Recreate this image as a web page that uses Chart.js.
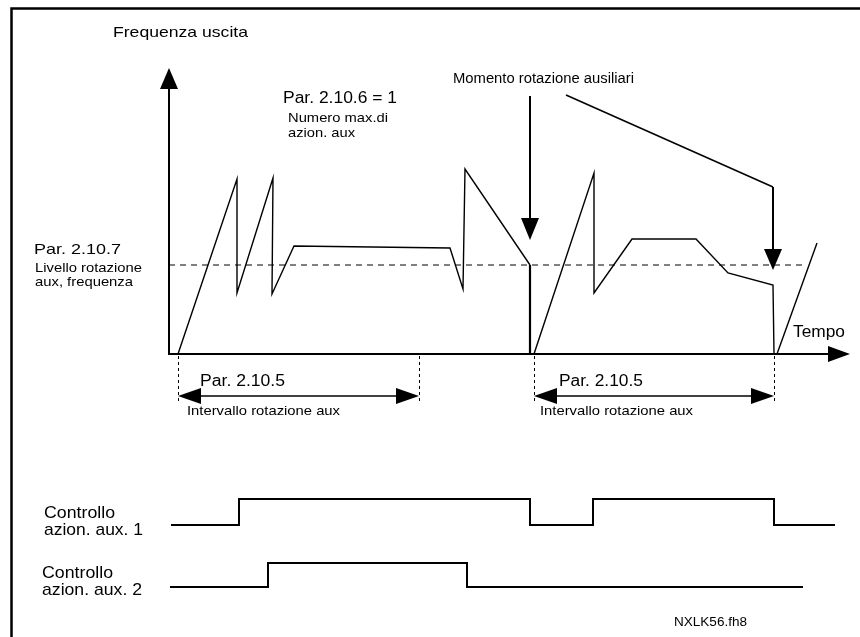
<!DOCTYPE html>
<html>
<head>
<meta charset="utf-8">
<script src="https://cdn.jsdelivr.net/npm/chart.js@4/dist/chart.umd.min.js"></script>
<style>
  html, body { margin: 0; padding: 0; background: #fff; }
  #wrap { width: 860px; height: 637px; }
</style>
</head>
<body>
<div id="wrap"><canvas id="diagram" width="860" height="637"></canvas></div>
<script>
// output frequency, time measured from the y axis, frequency from the time axis
const cycle1T = [9, 68, 68, 104, 103, 125, 281, 294, 296, 361, 361];
const cycle1F = [0, 175, 61, 176, 60, 108, 106, 65, 185, 89, 0];
const cycle2T = [365, 425, 425, 463, 527, 559, 604, 605];
const cycle2F = [0, 181, 61, 115, 115, 81, 69, 0];
const cycle3T = [608, 648];
const cycle3F = [0, 111];

// aux rotation level (Par. 2.10.7)
const levelF = 89;
const levelT = [0, 638];

// aux drive control signals (0 = off, 1 = on)
const aux1T = [2, 70, 361, 424, 605, 666];
const aux1S = [0, 1, 0, 1, 0, 0];
const aux2T = [1, 99, 298, 634];
const aux2S = [0, 1, 0, 0];

// rotation intervals (Par. 2.10.5)
const intervalStart = [9, 365];
const intervalEnd = [250, 605];

const W = 860, H = 637;
const originX = 169, originY = 354;
const aux1Low = 525, aux1High = 499;
const aux2Low = 587, aux2High = 563;

const pts = (xs, ys) => xs.map((x, i) => ({ x, y: ys[i] }));
const font = 'Liberation Sans, Arial, sans-serif';

const dropWidth = ctx =>
  (ctx.p0.parsed.x === ctx.p1.parsed.x && ctx.p1.parsed.y === 0 && ctx.p0.parsed.y < 100) ? 2.2 : 1.4;

const freqLine = data => ({
  data, borderColor: '#000', borderWidth: 1.4, pointRadius: 0, showLine: true,
  segment: { borderWidth: dropWidth }
});

// text, left, baseline, font size, drawn width
const texts = [
  ['Frequenza uscita', 113, 37, 15, 135],
  ['Par. 2.10.6 = 1', 283, 103, 16, 114],
  ['Numero max.di', 288, 122, 13, 100],
  ['azion. aux', 288, 137, 13, 67],
  ['Par. 2.10.7', 34, 254, 15, 87],
  ['Livello rotazione', 35, 272, 13, 107],
  ['aux, frequenza', 35, 286, 13, 98],
  ['Momento rotazione ausiliari', 453, 83, 14, 181],
  ['Par. 2.10.5', 200, 386, 16, 85],
  ['Intervallo rotazione aux', 187, 415, 13, 153],
  ['Par. 2.10.5', 559, 386, 16, 84],
  ['Intervallo rotazione aux', 540, 415, 13, 153],
  ['Tempo', 793, 337, 16, 52],
  ['Controllo', 44, 518, 17, 71],
  ['azion. aux. 1', 44, 535, 17, 99],
  ['Controllo', 42, 578, 17, 71],
  ['azion. aux. 2', 42, 595, 17, 100],
  ['NXLK56.fh8', 674, 626, 12.5, 73]
];

function arrowHead(ctx, tipX, tipY, fromX, fromY, len, half) {
  const a = Math.atan2(tipY - fromY, tipX - fromX);
  const bx = tipX - Math.cos(a) * len, by = tipY - Math.sin(a) * len;
  ctx.beginPath();
  ctx.moveTo(tipX, tipY);
  ctx.lineTo(bx + Math.sin(a) * half, by - Math.cos(a) * half);
  ctx.lineTo(bx - Math.sin(a) * half, by + Math.cos(a) * half);
  ctx.closePath();
  ctx.fill();
}

const decor = {
  id: 'decor',
  beforeDatasetsDraw(chart) {
    const { ctx } = chart;
    const xs = chart.scales.x, ys = chart.scales.y;
    const px = t => xs.getPixelForValue(t), py = f => ys.getPixelForValue(f);
    ctx.save();
    ctx.strokeStyle = '#000';
    ctx.fillStyle = '#000';

    // frame
    ctx.lineWidth = 2.5;
    ctx.beginPath();
    ctx.moveTo(11.5, H + 5);
    ctx.lineTo(11.5, 8.5);
    ctx.lineTo(W + 5, 8.5);
    ctx.stroke();

    // axes
    ctx.lineWidth = 2;
    ctx.beginPath();
    ctx.moveTo(px(0), py(270));
    ctx.lineTo(px(0), py(0));
    ctx.lineTo(px(665), py(0));
    ctx.stroke();
    arrowHead(ctx, px(0), py(286), px(0), py(0), 21, 9);
    arrowHead(ctx, px(681), py(0), px(0), py(0), 22, 8);

    // rotation moment arrows
    ctx.lineWidth = 2;
    ctx.beginPath();
    ctx.moveTo(px(361), py(258));
    ctx.lineTo(px(361), py(130));
    ctx.stroke();
    arrowHead(ctx, px(361), py(114), px(361), py(258), 22, 9);
    ctx.lineWidth = 1.4;
    ctx.beginPath();
    ctx.moveTo(px(397), py(259));
    ctx.lineTo(px(604), py(167));
    ctx.stroke();
    ctx.lineWidth = 2;
    ctx.beginPath();
    ctx.moveTo(px(604), py(167));
    ctx.lineTo(px(604), py(100));
    ctx.stroke();
    arrowHead(ctx, px(604), py(84), px(604), py(167), 21, 9);

    // interval markers
    intervalStart.forEach((t0, i) => {
      const t1 = intervalEnd[i];
      ctx.lineWidth = 1;
      ctx.setLineDash([3, 3]);
      ctx.beginPath();
      ctx.moveTo(px(t0) + 0.5, py(-2)); ctx.lineTo(px(t0) + 0.5, py(-48));
      ctx.moveTo(px(t1) + 0.5, py(-2)); ctx.lineTo(px(t1) + 0.5, py(-48));
      ctx.stroke();
      ctx.setLineDash([]);
      ctx.lineWidth = 1.5;
      ctx.beginPath();
      ctx.moveTo(px(t0) + 15, py(-42)); ctx.lineTo(px(t1) - 15, py(-42));
      ctx.stroke();
      arrowHead(ctx, px(t0), py(-42), px(t1), py(-42), 23, 8);
      arrowHead(ctx, px(t1), py(-42), px(t0), py(-42), 23, 8);
    });

    // texts, stretched to the widths in the original drawing
    ctx.textBaseline = 'alphabetic';
    ctx.textAlign = 'left';
    texts.forEach(([s, x, y, size, w]) => {
      ctx.font = size + 'px ' + font;
      const sx = w / ctx.measureText(s).width;
      ctx.save();
      ctx.translate(x, y);
      ctx.scale(sx, 1);
      ctx.fillText(s, 0, 0);
      ctx.restore();
    });
    ctx.restore();
  }
};

new Chart(document.getElementById('diagram'), {
  type: 'scatter',
  data: {
    datasets: [
      freqLine(pts(cycle1T, cycle1F)),
      freqLine(pts(cycle2T, cycle2F)),
      freqLine(pts(cycle3T, cycle3F)),
      {
        data: pts(levelT, levelT.map(() => levelF)),
        borderColor: '#000', borderWidth: 1, borderDash: [6, 5],
        pointRadius: 0, showLine: true
      },
      {
        data: pts(aux1T, aux1S), yAxisID: 'yA', stepped: 'before',
        borderColor: '#000', borderWidth: 2, pointRadius: 0, showLine: true
      },
      {
        data: pts(aux2T, aux2S), yAxisID: 'yB', stepped: 'before',
        borderColor: '#000', borderWidth: 2, pointRadius: 0, showLine: true
      }
    ]
  },
  options: {
    responsive: false,
    animation: false,
    devicePixelRatio: 1,
    layout: { padding: 0 },
    plugins: { legend: { display: false }, tooltip: { enabled: false } },
    scales: {
      x: { type: 'linear', display: false, min: -originX, max: W - originX },
      y: { type: 'linear', display: false, min: originY - H, max: originY },
      yA: {
        type: 'linear', display: false,
        min: (aux1Low - H) / (aux1Low - aux1High), max: aux1Low / (aux1Low - aux1High)
      },
      yB: {
        type: 'linear', display: false,
        min: (aux2Low - H) / (aux2Low - aux2High), max: aux2Low / (aux2Low - aux2High)
      }
    }
  },
  plugins: [decor]
});
</script>
</body>
</html>
